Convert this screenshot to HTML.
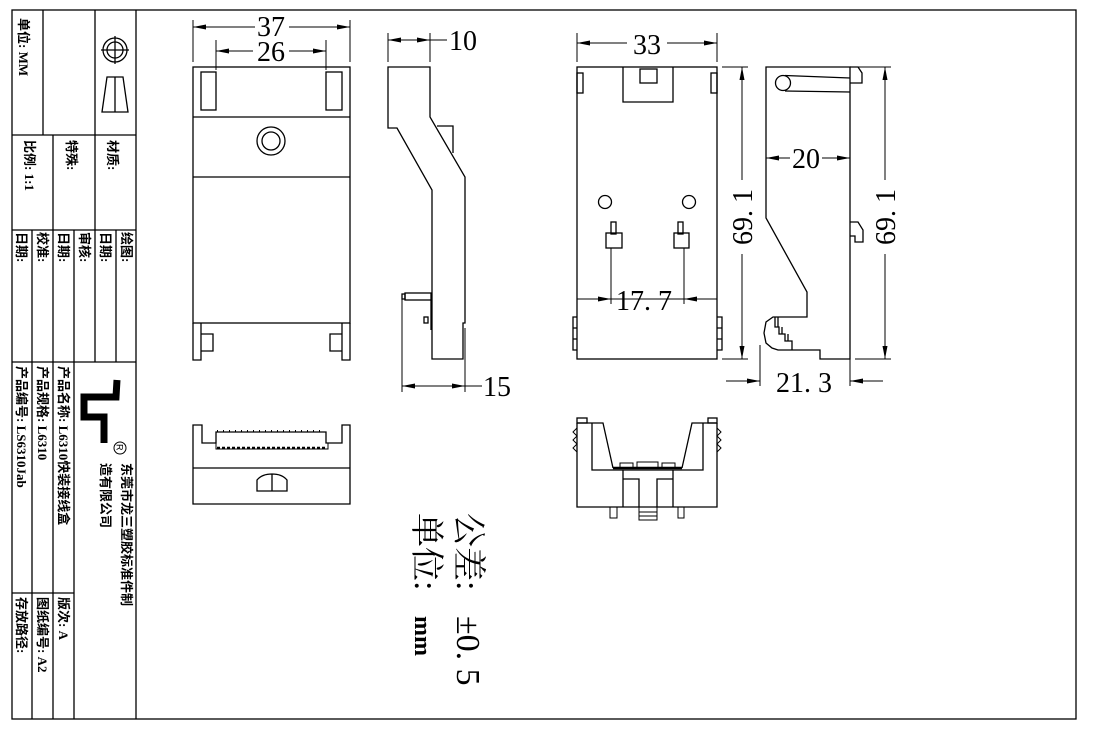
<!DOCTYPE html>
<html><head><meta charset="utf-8"><style>
html,body{margin:0;padding:0;background:#fff}
svg{display:block}
.t{font-family:"Liberation Serif","Noto Sans CJK SC",serif;font-size:13px;font-weight:bold;fill:#000;white-space:pre}
.d{font-family:"Liberation Serif","Noto Serif CJK SC",serif;font-size:28px;fill:#000}
.big{font-family:"Liberation Serif","Noto Serif CJK SC",serif;font-size:34px;white-space:pre}
</style></head><body>
<svg width="1093" height="731" viewBox="0 0 1093 731" xmlns="http://www.w3.org/2000/svg">
<defs>
<marker id="a" markerUnits="userSpaceOnUse" markerWidth="13" markerHeight="6" refX="13" refY="3" orient="auto-start-reverse"><path d="M0,0.5 L13,3 L0,5.5 z" fill="#000"/></marker>
</defs>
<g fill="none" stroke="#000" stroke-width="1.3">
<rect x="12" y="10" width="1064" height="709"/>
<line x1="136" y1="10" x2="136" y2="719"/>
<line x1="12" y1="135" x2="136" y2="135"/>
<line x1="43" y1="10" x2="43" y2="135"/>
<line x1="95" y1="10" x2="95" y2="362"/>
<line x1="12" y1="230" x2="136" y2="230"/>
<line x1="53" y1="135" x2="53" y2="719"/>
<line x1="32" y1="230" x2="32" y2="719"/>
<line x1="74" y1="230" x2="74" y2="719"/>
<line x1="116" y1="230" x2="116" y2="362"/>
<line x1="12" y1="362" x2="136" y2="362"/>
<line x1="12" y1="593" x2="74" y2="593"/>
<circle cx="115" cy="50" r="12"/><circle cx="115" cy="50" r="8"/>
<line x1="101" y1="50" x2="129" y2="50"/><line x1="115" y1="36" x2="115" y2="64"/>
<path d="M102,112 L107,77 L123,77 L128,112 Z M115,77 L115,112"/>
<circle cx="120" cy="448" r="6" stroke-width="1"/>
</g>
<path d="M117,380 L116,397 L84,397 L84,417 L104,417 L104,443" fill="none" stroke="#000" stroke-width="7"/>
<g class="t">
<text transform="translate(19,18) rotate(90)">单位: MM</text>
<text transform="translate(25,140) rotate(90)">比例:   1:1</text>
<text transform="translate(67,140) rotate(90)">特殊:</text>
<text transform="translate(108,140) rotate(90)">材质:</text>
<text transform="translate(17,232) rotate(90)">日期:</text>
<text transform="translate(38,232) rotate(90)">校准:</text>
<text transform="translate(59,232) rotate(90)">日期:</text>
<text transform="translate(80,232) rotate(90)">审核:</text>
<text transform="translate(101,232) rotate(90)">日期:</text>
<text transform="translate(122,232) rotate(90)">绘图:</text>
<text transform="translate(17,366) rotate(90)">产品编号:  LS6310Jab</text>
<text transform="translate(38,366) rotate(90)">产品规格:  L6310</text>
<text transform="translate(59,366) rotate(90)">产品名称:  L6310快装接线盒</text>
<text transform="translate(17,597) rotate(90)">存放路径:</text>
<text transform="translate(38,597) rotate(90)">图纸编号:  A2</text>
<text transform="translate(59,597) rotate(90)">版次:   A</text>
<text transform="translate(122,463) rotate(90)">东莞市龙三塑胶标准件制</text>
<text transform="translate(101,463) rotate(90)">造有限公司</text>
</g>
<text transform="translate(116.5,444) rotate(90)" style="font-family:'Liberation Sans',sans-serif;font-size:9px">R</text>

<g fill="none" stroke="#000" stroke-width="1.3">
<rect x="193" y="67" width="157" height="256"/>
<line x1="193" y1="117" x2="350" y2="117"/>
<line x1="193" y1="177" x2="350" y2="177"/>
<rect x="201" y="72" width="15" height="38"/>
<rect x="326" y="72" width="16" height="38"/>
<circle cx="271" cy="141" r="14"/><circle cx="271" cy="141" r="9"/>
<path d="M193,323 L193,360 L201,360 L201,323 M201,334 L213,334 L213,351 L201,351"/>
<path d="M350,323 L350,360 L342,360 L342,323 M342,334 L330,334 L330,351 L342,351"/>
<line x1="193" y1="20" x2="193" y2="62" stroke-width="1"/>
<line x1="350" y1="20" x2="350" y2="62" stroke-width="1"/>
<line x1="216" y1="40" x2="216" y2="70" stroke-width="1"/>
<line x1="326" y1="40" x2="326" y2="70" stroke-width="1"/>
<line x1="193" y1="27" x2="350" y2="27" stroke-width="1" marker-start="url(#a)" marker-end="url(#a)"/>
<line x1="216" y1="51" x2="326" y2="51" stroke-width="1" marker-start="url(#a)" marker-end="url(#a)"/>

<path d="M388,67 L430,67 L430,117 L465,177 L465,323 L463,323 L463,359 L432,359 L432,190 L397,128 L388,128 Z"/>
<path d="M437,126 L453,126 L453,153"/>
<rect x="405" y="293" width="26" height="7"/>
<rect x="402" y="294" width="3" height="5"/>
<line x1="431" y1="300" x2="431" y2="330"/>
<rect x="424" y="317" width="4" height="6"/>
<line x1="388" y1="33" x2="388" y2="62" stroke-width="1"/>
<line x1="430" y1="33" x2="430" y2="62" stroke-width="1"/>
<line x1="388" y1="40" x2="430" y2="40" stroke-width="1" marker-start="url(#a)" marker-end="url(#a)"/>
<line x1="430" y1="40" x2="447" y2="40" stroke-width="1"/>
<line x1="402" y1="296" x2="402" y2="392" stroke-width="1"/>
<line x1="465" y1="328" x2="465" y2="392" stroke-width="1"/>
<line x1="402" y1="386" x2="465" y2="386" stroke-width="1" marker-start="url(#a)" marker-end="url(#a)"/>
<line x1="465" y1="386" x2="482" y2="386" stroke-width="1"/>

<rect x="577" y="67" width="140" height="292"/>
<path d="M623,67 L623,102 L673,102 L673,67"/>
<rect x="640" y="69" width="17" height="14"/>
<rect x="577" y="73" width="6" height="20"/>
<rect x="711" y="73" width="6" height="20"/>
<circle cx="605" cy="202" r="6.5"/><circle cx="689" cy="202" r="6.5"/>
<rect x="611" y="222" width="5" height="12"/><rect x="606" y="233" width="16" height="15"/>
<rect x="678" y="222" width="5" height="12"/><rect x="674" y="233" width="15" height="15"/>
<line x1="611" y1="248" x2="611" y2="304" stroke-width="1"/>
<line x1="684" y1="248" x2="684" y2="304" stroke-width="1"/>
<line x1="577" y1="299" x2="717" y2="299" stroke-width="1"/>
<path d="M577,317 L573,317 L573,350 L577,350 M573,328 L577,328 M573,339 L577,339"/>
<path d="M717,317 L722,317 L722,350 L717,350 M722,328 L717,328 M722,339 L717,339"/>
<line x1="577" y1="299" x2="611" y2="299" stroke-width="1" marker-end="url(#a)"/>
<line x1="717" y1="299" x2="684" y2="299" stroke-width="1" marker-end="url(#a)"/>
<line x1="577" y1="33" x2="577" y2="62" stroke-width="1"/>
<line x1="717" y1="33" x2="717" y2="62" stroke-width="1"/>
<line x1="577" y1="43" x2="717" y2="43" stroke-width="1" marker-start="url(#a)" marker-end="url(#a)"/>
<line x1="722" y1="67" x2="748" y2="67" stroke-width="1"/>
<line x1="722" y1="359" x2="748" y2="359" stroke-width="1"/>
<line x1="742" y1="67" x2="742" y2="359" stroke-width="1" marker-start="url(#a)" marker-end="url(#a)"/>

<path d="M766,67 L850,67 L850,359 L820,359 L820,350 L778,350 L772,348 L766,343 L764,333 L766,322 L773,317 L807,317 L807,292 L766,218 Z"/>
<path d="M775,317 L775,327 L779,327 L779,334 L785,334 L785,341 L792,341 L792,350 M778,317 L778,327 M782,327 L782,334 M788,334 L788,341"/>
<circle cx="783" cy="83" r="7.5"/>
<path d="M785,75.5 L850,78 M785,91 L850,92"/>
<path d="M850,67 L858,67 L862,73 L862,83 L850,83"/>
<path d="M850,222 L858,222 L863,230 L863,242 L855,242 L855,236 L850,236"/>
<line x1="766" y1="158" x2="850" y2="158" stroke-width="1" marker-start="url(#a)" marker-end="url(#a)"/>
<line x1="855" y1="67" x2="891" y2="67" stroke-width="1"/>
<line x1="855" y1="359" x2="891" y2="359" stroke-width="1"/>
<line x1="885" y1="67" x2="885" y2="359" stroke-width="1" marker-start="url(#a)" marker-end="url(#a)"/>
<line x1="760" y1="345" x2="760" y2="386" stroke-width="1"/>
<line x1="850" y1="359" x2="850" y2="386" stroke-width="1"/>
<line x1="726" y1="381" x2="760" y2="381" stroke-width="1" marker-end="url(#a)"/>
<line x1="883" y1="381" x2="850" y2="381" stroke-width="1" marker-end="url(#a)"/>

<path d="M193,425 L202,425 L202,443 L216,443 L216,432 L326,432 L326,443 L342,443 L342,425 L350,425 L350,504 L193,504 Z"/>
<line x1="193" y1="468" x2="350" y2="468"/>
<path d="M216,443 L216,449 L328,449 L328,443" stroke-width="1"/>
<path d="M217,431 L325,431" stroke-width="2" stroke-dasharray="1,5"/>
<path d="M217,448 L327,448" stroke-width="2.5" stroke-dasharray="3,2"/>
<path d="M257,491 L257,480 Q262,474 272,474 Q282,474 287,480 L287,491 Z M272,474 L272,491"/>

<path d="M577,423 L577,507 L717,507 L717,423"/>
<rect x="577" y="418" width="10" height="5"/><rect x="708" y="418" width="9" height="5"/>
<path d="M577,423 L603,423 L613,468 M717,423 L692,423 L682,468"/>
<path d="M592,423 L592,470 L703,470 L703,423"/>
<line x1="613" y1="468" x2="682" y2="468" stroke-width="2.5"/>
<path d="M620,468 L620,463 L633,463 L633,468 M637,468 L637,462 L658,462 L658,468 M662,468 L662,463 L675,463 L675,468" stroke-width="1"/>
<path d="M623,470 L623,507 M673,470 L673,507 M623,479 L639,479 L639,507 M673,479 L657,479 L657,507"/>
<path d="M639,507 L639,520 L657,520 L657,507 M639,512 L657,512 M639,516 L657,516" stroke-width="1"/>
<path d="M610,507 L610,518 L617,518 L617,507 M678,507 L678,518 L684,518 L684,507" stroke-width="1"/>
<path d="M577,428 L573,432 L577,436 L573,440 L577,444 L573,448 L577,452" stroke-width="1"/>
<path d="M717,428 L721,432 L717,436 L721,440 L717,444 L721,448 L717,452" stroke-width="1"/>
</g>

<g class="d">
<rect x="255" y="14" width="34" height="26" fill="#fff"/>
<text x="271" y="36" text-anchor="middle">37</text>
<rect x="253" y="40" width="36" height="22" fill="#fff"/>
<text x="271" y="61" text-anchor="middle">26</text>
<text x="449" y="50">10</text>
<text x="483" y="396">15</text>
<rect x="627" y="33" width="40" height="22" fill="#fff"/>
<text x="647" y="54" text-anchor="middle">33</text>
<text x="616" y="310">17. 7</text>
<rect x="790" y="146" width="32" height="24" fill="#fff"/>
<text x="806" y="168" text-anchor="middle">20</text>
<text x="776" y="392">21. 3</text>
<rect x="730" y="180" width="24" height="74" fill="#fff"/>
<text transform="translate(752,217) rotate(-90)" text-anchor="middle">69. 1</text>
<rect x="873" y="180" width="24" height="74" fill="#fff"/>
<text transform="translate(895,217) rotate(-90)" text-anchor="middle">69. 1</text>
</g>

<text class="big" transform="translate(457,513) rotate(90)">公差:   ±0. 5</text>
<text class="big" transform="translate(415,513) rotate(90)">单位:   <tspan font-weight="bold" font-size="24">mm</tspan></text>
</svg>
</body></html>
